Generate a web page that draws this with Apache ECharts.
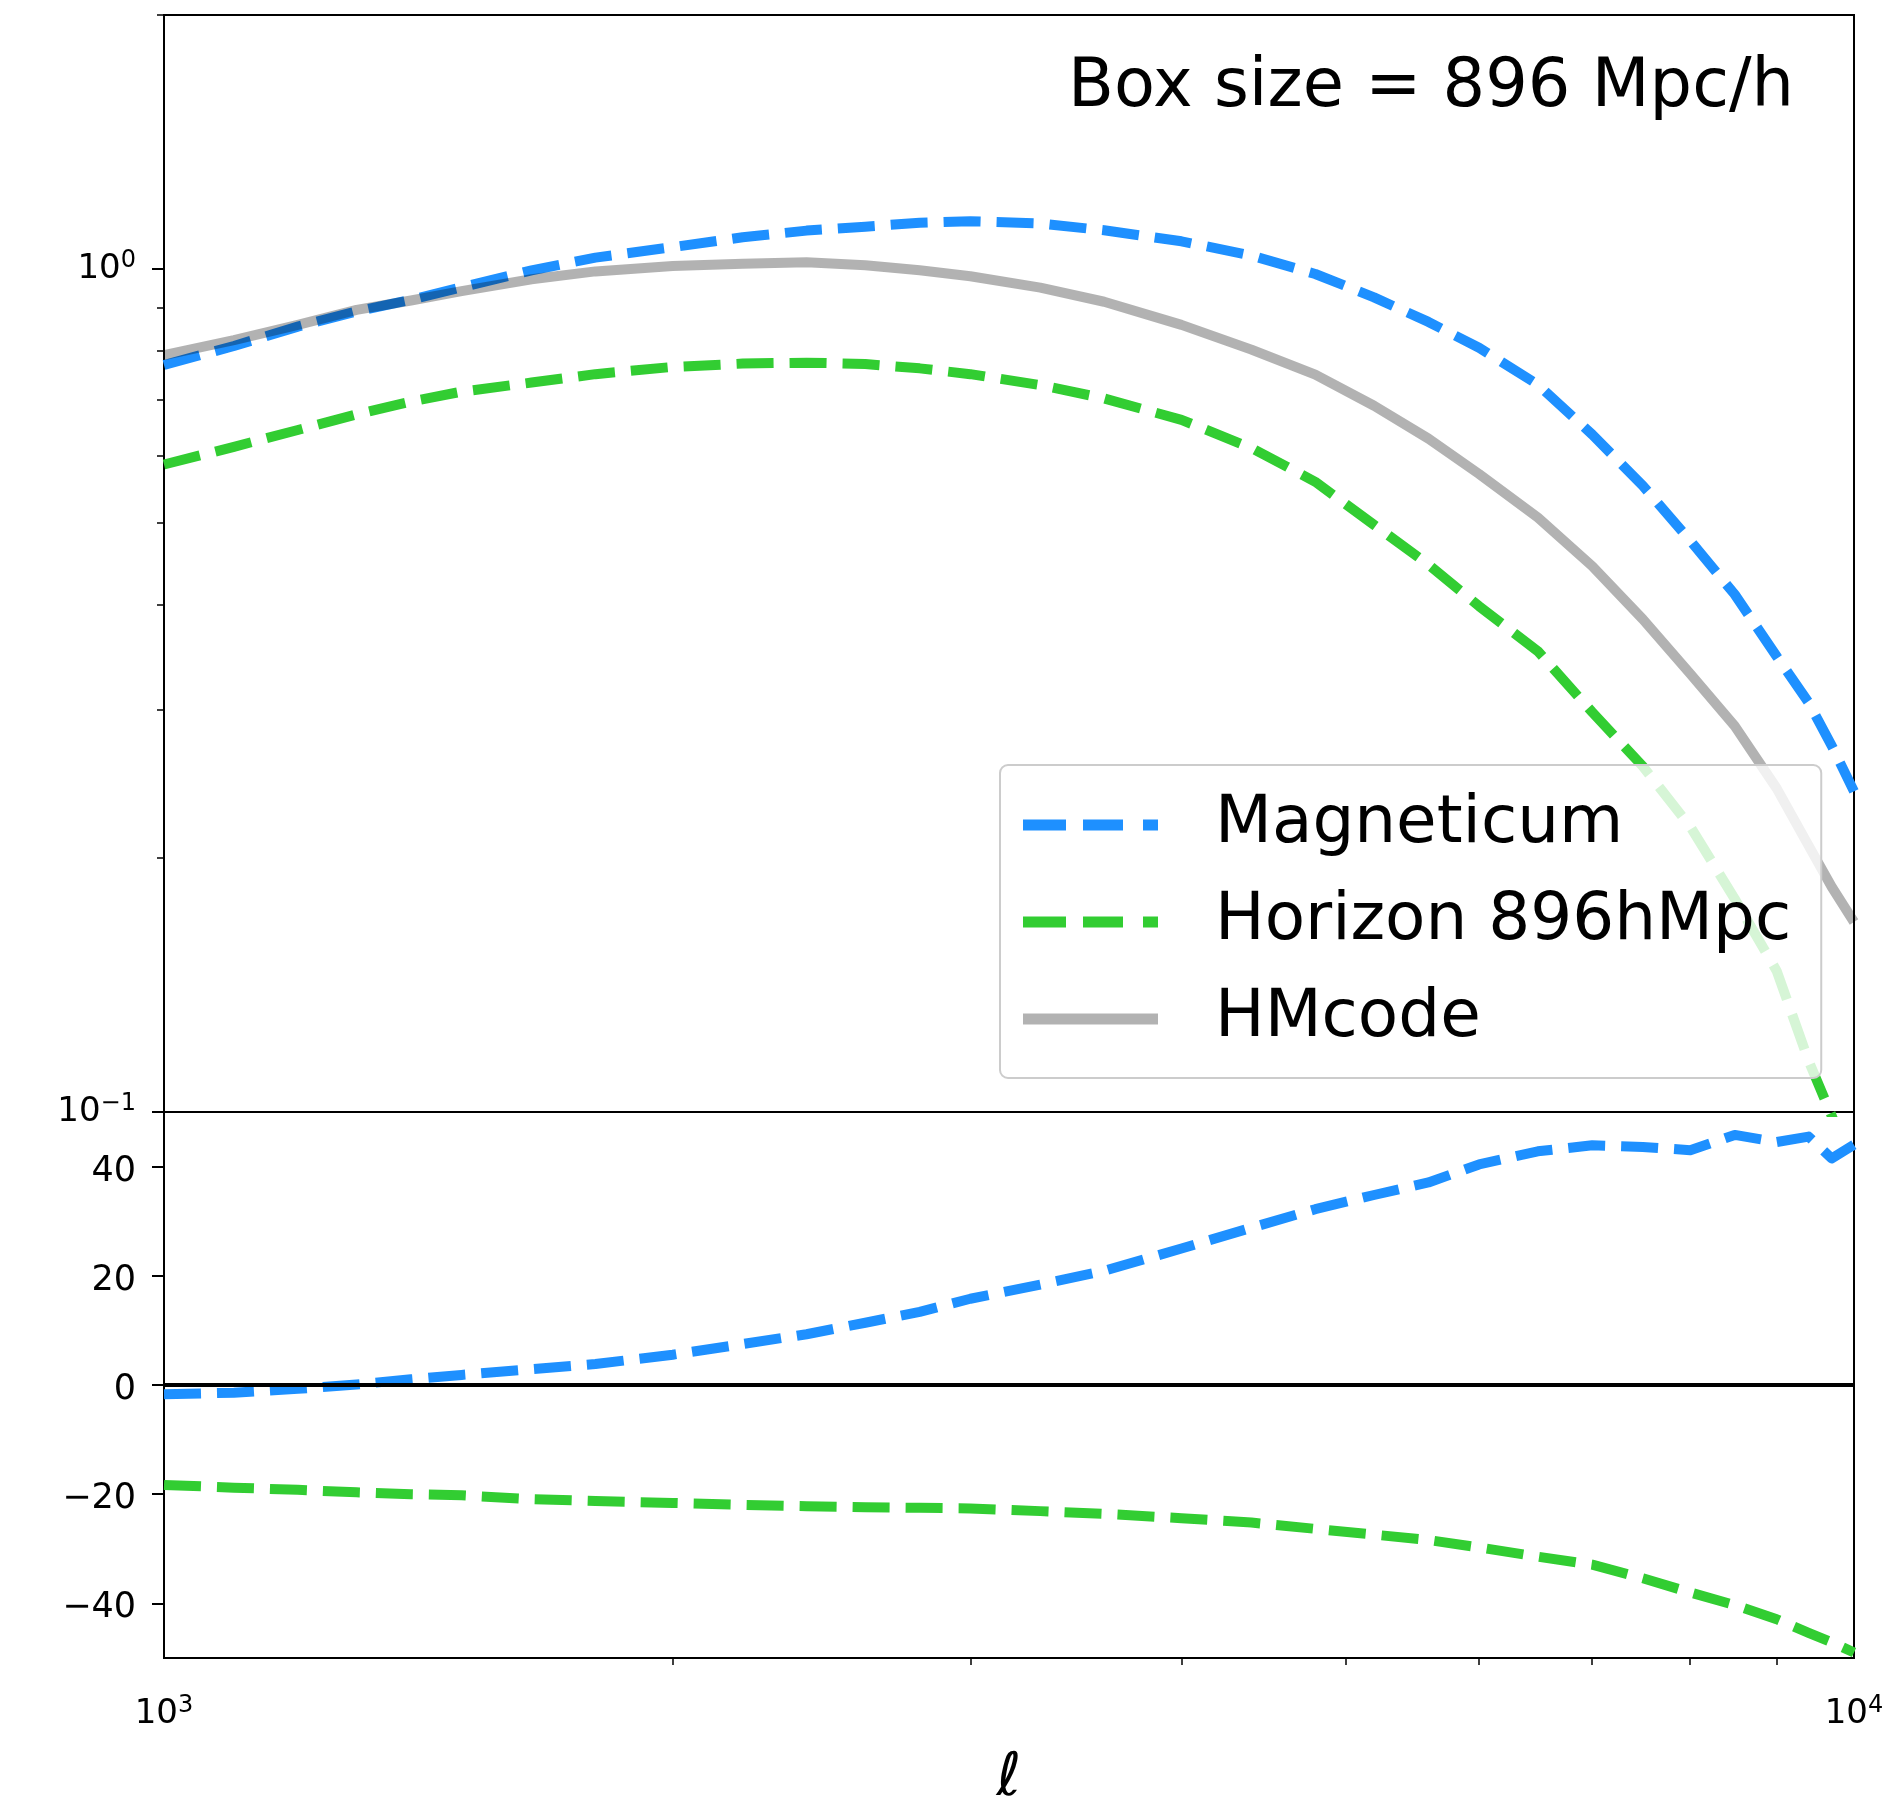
<!DOCTYPE html>
<html>
<head>
<meta charset="utf-8">
<title>Box size = 896 Mpc/h</title>
<script src="https://cdn.jsdelivr.net/npm/echarts@6.0.0/dist/echarts.min.js"></script>
<style>
  html, body { margin: 0; padding: 0; background: #fff; }
  #chart { width: 1900px; height: 1803px; }
</style>
</head>
<body>
<div id="chart"></div>
<script>
// multipole l (shared x, log scale)
var ell = [1000, 1100, 1200, 1300, 1400, 1500, 1650, 1800, 2000, 2200, 2400, 2600, 2800, 3000, 3300,
  3600, 4000, 4400, 4800, 5200, 5600, 6000, 6500, 7000, 7500, 8000, 8500, 9000, 9400, 9700, 10000];

// top panel (log y)
var magneticumTop = [0.769, 0.810, 0.854, 0.890, 0.919, 0.951, 0.996, 1.031, 1.061, 1.090, 1.110, 1.122, 1.134, 1.139, 1.132,
  1.111, 1.078, 1.037, 0.986, 0.925, 0.865, 0.806, 0.729, 0.636, 0.553, 0.476, 0.411, 0.347, 0.306, 0.272, 0.240];
var horizonTop = [0.586, 0.615, 0.644, 0.672, 0.696, 0.715, 0.733, 0.750, 0.765, 0.772, 0.774, 0.771, 0.762, 0.750, 0.728,
  0.702, 0.662, 0.613, 0.559, 0.497, 0.446, 0.398, 0.352, 0.298, 0.257, 0.218, 0.179, 0.147, 0.115, 0.099, 0.085];
var hmcodeTop = [0.790, 0.823, 0.858, 0.894, 0.917, 0.941, 0.972, 0.993, 1.008, 1.014, 1.018, 1.010, 0.996, 0.980, 0.950,
  0.914, 0.858, 0.802, 0.749, 0.688, 0.629, 0.571, 0.507, 0.444, 0.384, 0.331, 0.287, 0.242, 0.207, 0.185, 0.168];

// bottom panel (difference, %)
var magneticumDiff = [-1.7, -1.4, -0.7, 0.1, 1.05, 1.85, 2.9, 3.85, 5.55, 7.5, 9.3, 11.4, 13.4, 15.8, 18.4,
  20.9, 25.0, 28.8, 32.2, 34.8, 37.1, 40.4, 42.8, 43.9, 43.6, 43.0, 45.8, 44.5, 45.5, 41.5, 44.0];
var horizonDiff = [-18.3, -18.8, -19.2, -19.65, -20.0, -20.2, -20.9, -21.25, -21.6, -21.95, -22.2, -22.4, -22.5, -22.6, -23.1,
  -23.6, -24.4, -25.2, -26.35, -27.4, -28.4, -29.75, -31.45, -32.9, -35.4, -38.0, -40.3, -42.9, -45.4, -47.1, -49.0];

// ticks
var xMajorTicks = [1000, 10000];
var xMinorTicks = [2000, 3000, 4000, 5000, 6000, 7000, 8000, 9000];
var yTopMajorTicks = [0.1, 1];
var yTopMinorTicks = [0.2, 0.3, 0.4, 0.5, 0.6, 0.7, 0.8, 0.9, 2];
var yBottomTicks = [-40, -20, 0, 20, 40];

var FONT = 'DejaVu Sans';
var dashIcon = 'path://M0,0h43v11h-43z M60,0h40v11h-40z M120,0h15v11h-15z';

function pairs(xs, ys) {
  return xs.map(function (x, i) { return [x, ys[i]]; });
}

function powLabel(v) {
  var e = Math.round(Math.log(v) / Math.LN10);
  var txt = e < 0 ? '\u2212' + (-e) : String(e);
  return '{b|10}{s|' + txt + '}';
}

var powRich = {
  b: { fontSize: 34, lineHeight: 40, fontFamily: FONT, color: '#000' },
  s: { fontSize: 24, lineHeight: 24, verticalAlign: 'top', fontFamily: FONT, color: '#000' }
};

var blackLine = { color: '#000', width: 2 };

var chartDom = document.getElementById('chart');
var myChart = echarts.init(chartDom);
var option;

option = {
  animation: false,
  backgroundColor: '#fff',
  title: {
    text: 'Box size = 896 Mpc/h',
    right: 106,
    top: 55,
    padding: 0,
    textStyle: { fontFamily: FONT, fontSize: 67, lineHeight: 67, fontWeight: 'normal', color: '#000' }
  },
  legend: {
    data: [
      { name: 'Magneticum', icon: dashIcon },
      { name: 'Horizon 896hMpc', icon: dashIcon },
      { name: 'HMcode', icon: 'rect' }
    ],
    orient: 'vertical',
    left: 1000,
    top: 765,
    itemWidth: 135,
    itemHeight: 11,
    itemGap: 31,
    padding: [27, 30, 26, 23],
    backgroundColor: 'rgba(255,255,255,0.8)',
    borderColor: '#cccccc',
    borderWidth: 2,
    borderRadius: 8,
    selectedMode: false,
    textStyle: { fontFamily: FONT, fontSize: 66, lineHeight: 66, color: '#000', padding: [0, 0, 0, 52] }
  },
  grid: [
    { left: 164, right: 46, top: 15, height: 1097, outerBoundsMode: 'none', containLabel: false,
      show: true, borderColor: '#000', borderWidth: 2, backgroundColor: 'transparent' },
    { left: 164, right: 46, top: 1112, height: 546, outerBoundsMode: 'none', containLabel: false,
      show: true, borderColor: '#000', borderWidth: 2, backgroundColor: 'transparent' }
  ],
  xAxis: [
    {
      type: 'log', logBase: 10, gridIndex: 0, min: 1000, max: 10000,
      axisLine: { show: false }, axisTick: { show: false }, axisLabel: { show: false }, splitLine: { show: false }
    },
    {
      type: 'log', logBase: 10, gridIndex: 1, min: 1000, max: 10000, position: 'bottom',
      axisLine: { show: true, lineStyle: blackLine },
      axisTick: { show: true, customValues: xMajorTicks, length: 12, lineStyle: blackLine },
      axisLabel: { customValues: xMajorTicks, formatter: powLabel, rich: powRich, margin: 36 },
      splitLine: { show: false },
      name: '\u2113',
      nameLocation: 'middle',
      nameGap: 91,
      nameTextStyle: { fontFamily: FONT, fontSize: 60, fontStyle: 'italic', color: '#000' }
    },
    {
      type: 'log', logBase: 10, gridIndex: 1, min: 1000, max: 10000, position: 'bottom',
      axisLine: { show: false },
      axisTick: { show: true, customValues: xMinorTicks, length: 7, lineStyle: { color: '#000', width: 1.5 } },
      axisLabel: { show: false }, splitLine: { show: false }
    }
  ],
  yAxis: [
    {
      type: 'log', logBase: 10, gridIndex: 0, min: 0.1, max: 2, position: 'left',
      axisLine: { show: true, lineStyle: blackLine },
      axisTick: { show: true, customValues: yTopMajorTicks, length: 12, lineStyle: blackLine },
      axisLabel: { customValues: yTopMajorTicks, formatter: powLabel, rich: powRich, margin: 28 },
      splitLine: { show: false }
    },
    {
      type: 'log', logBase: 10, gridIndex: 0, min: 0.1, max: 2, position: 'left',
      axisLine: { show: false },
      axisTick: { show: true, customValues: yTopMinorTicks, length: 7, lineStyle: { color: '#000', width: 1.5 } },
      axisLabel: { show: false }, splitLine: { show: false }
    },
    {
      type: 'value', gridIndex: 1, min: -50, max: 50, position: 'left',
      axisLine: { show: true, lineStyle: blackLine },
      axisTick: { show: true, customValues: yBottomTicks, length: 12, lineStyle: blackLine },
      axisLabel: {
        customValues: yBottomTicks, margin: 28,
        formatter: function (v) { return '{v|' + (v < 0 ? '\u2212' + (-v) : String(v)) + '}'; },
        rich: { v: { fontFamily: FONT, fontSize: 35, color: '#000', padding: [10, 0, 0, 0] } }
      },
      splitLine: { show: false }
    }
  ],
  series: [
    {
      name: 'Magneticum', type: 'line', xAxisIndex: 0, yAxisIndex: 0,
      data: pairs(ell, magneticumTop), symbol: 'none', z: 2,
      itemStyle: { color: '#1e90ff' },
      lineStyle: { color: '#1e90ff', width: 10, type: [37, 16], join: 'round' }
    },
    {
      name: 'Horizon 896hMpc', type: 'line', xAxisIndex: 0, yAxisIndex: 0,
      data: pairs(ell, horizonTop), symbol: 'none', z: 2,
      itemStyle: { color: '#32cd32' },
      lineStyle: { color: '#32cd32', width: 10, type: [37, 16], join: 'round' }
    },
    {
      name: 'HMcode', type: 'line', xAxisIndex: 0, yAxisIndex: 0,
      data: pairs(ell, hmcodeTop), symbol: 'none', z: 3,
      itemStyle: { color: 'rgba(0,0,0,0.3)' },
      lineStyle: { color: 'rgba(0,0,0,0.3)', width: 10, type: 'solid', join: 'round' }
    },
    {
      name: 'Magneticum', type: 'line', xAxisIndex: 1, yAxisIndex: 2,
      data: pairs(ell, magneticumDiff), symbol: 'none', z: 2,
      itemStyle: { color: '#1e90ff' },
      lineStyle: { color: '#1e90ff', width: 10, type: [37, 16], join: 'round' }
    },
    {
      name: 'Horizon 896hMpc', type: 'line', xAxisIndex: 1, yAxisIndex: 2,
      data: pairs(ell, horizonDiff), symbol: 'none', z: 2,
      itemStyle: { color: '#32cd32' },
      lineStyle: { color: '#32cd32', width: 10, type: [37, 16], join: 'round' },
      markLine: {
        silent: true,
        symbol: ['none', 'none'],
        label: { show: false },
        lineStyle: { color: '#000', width: 4, type: 'solid' },
        data: [{ yAxis: 0 }]
      }
    }
  ]
};

option && myChart.setOption(option);
</script>
</body>
</html>
